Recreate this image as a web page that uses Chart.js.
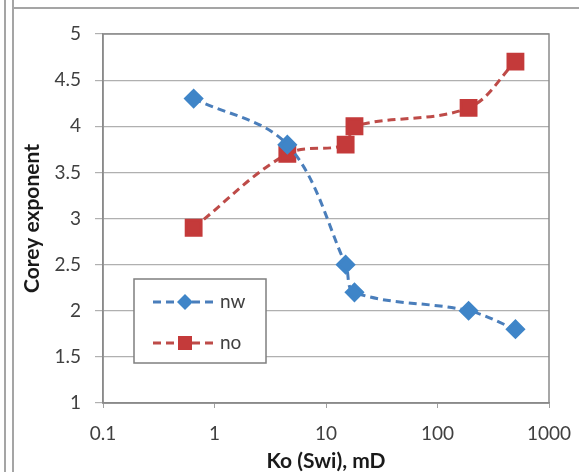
<!DOCTYPE html>
<html>
<head>
<meta charset="utf-8">
<script src="https://cdn.jsdelivr.net/npm/chart.js@4"></script>
<style>
  html, body { margin: 0; padding: 0; background: #fff; }
  #wrap { width: 579px; height: 472px; }
</style>
</head>
<body>
<div id="wrap"><canvas id="Corey"></canvas></div>
<script>
const ko = [0.65, 4.5, 15, 18, 190, 500];
const nw = [4.3, 3.8, 2.5, 2.2, 2.0, 1.8];
const no = [2.9, 3.7, 3.8, 4.0, 4.2, 4.7];
const xTicks = [0.1, 1, 10, 100, 1000];
const seriesNames = ['nw', 'no'];

const fontName = 'Lato, "Open Sans", sans-serif';

// outer frame of the Excel object + plot border
const framePlugin = {
  id: 'frame',
  beforeDraw(chart) {
    const c = chart.ctx;
    c.save();
    c.fillStyle = '#fff';
    c.fillRect(0, 0, chart.width, chart.height);
    c.strokeStyle = '#a5a5a5';
    c.lineWidth = 2;
    c.beginPath();
    c.moveTo(5, 0); c.lineTo(5, chart.height);
    c.moveTo(13, 0); c.lineTo(13, chart.height);
    c.moveTo(13, 8); c.lineTo(chart.width, 8);
    c.stroke();
    c.restore();
  },
  beforeDatasetsDraw(chart) {
    const a = chart.chartArea;
    const c = chart.ctx;
    c.save();
    c.strokeStyle = '#8a8a8a';
    c.lineWidth = 1.5;
    c.strokeRect(a.left, a.top, a.right - a.left, a.bottom - a.top);
    c.restore();
  }
};

// legend box drawn inside the plot, lower left
const boxLegend = {
  id: 'boxLegend',
  afterDraw(chart) {
    const a = chart.chartArea;
    const c = chart.ctx;
    const x0 = a.left + 31, y0 = a.bottom - 124, w = 132, h = 84;
    c.save();
    c.fillStyle = '#fff';
    c.fillRect(x0, y0, w, h);
    c.strokeStyle = '#7f7f7f';
    c.lineWidth = 1.5;
    c.strokeRect(x0, y0, w, h);
    chart.data.datasets.forEach((ds, i) => {
      const y = y0 + 23 + i * 41;
      c.strokeStyle = ds.borderColor;
      c.lineWidth = ds.borderWidth;
      c.setLineDash(ds.borderDash);
      c.beginPath();
      c.moveTo(x0 + 19, y);
      c.lineTo(x0 + 84, y);
      c.stroke();
      c.setLineDash([]);
      c.fillStyle = ds.pointBackgroundColor;
      c.beginPath();
      if (ds.pointStyle === 'rect') {
        c.rect(x0 + 51 - 7, y - 7, 14, 14);
      } else {
        c.moveTo(x0 + 51 - 8, y); c.lineTo(x0 + 51, y - 8);
        c.lineTo(x0 + 51 + 8, y); c.lineTo(x0 + 51, y + 8);
        c.closePath();
      }
      c.fill();
      c.fillStyle = '#404040';
      c.font = '19px ' + fontName;
      c.textBaseline = 'middle';
      c.fillText(ds.label, x0 + 86, y);
    });
    c.restore();
  }
};

function pts(ys) {
  return ko.map((k, i) => ({x: k, y: ys[i]}));
}

new Chart(document.getElementById('Corey'), {
  type: 'scatter',
  data: {
    datasets: [{
      label: seriesNames[0],
      data: pts(nw),
      showLine: true,
      borderColor: '#4a7ebb',
      borderWidth: 3,
      borderDash: [8, 5],
      tension: 0.35,
      pointStyle: 'rectRot',
      pointRadius: 8,
      pointHoverRadius: 8,
      pointBackgroundColor: '#3f85c8',
      pointBorderColor: '#3f85c8'
    }, {
      label: seriesNames[1],
      data: pts(no),
      showLine: true,
      borderColor: '#be4b48',
      borderWidth: 3,
      borderDash: [8, 5],
      tension: 0.35,
      pointStyle: 'rect',
      pointRadius: 10.5,
      pointHoverRadius: 10.5,
      pointBackgroundColor: '#c43a3a',
      pointBorderColor: '#c43a3a'
    }]
  },
  options: {
    responsive: true,
    maintainAspectRatio: false,
    animation: false,
    layout: { padding: { top: 34, right: 30, left: 0, bottom: 0 } },
    plugins: {
      legend: { display: false },
      tooltip: { enabled: false }
    },
    scales: {
      x: {
        type: 'logarithmic',
        min: 0.1,
        max: 1000,
        afterBuildTicks: s => { s.ticks = xTicks.map(v => ({value: v})); },
        afterFit: s => { s.height = 69; s.paddingLeft = 0; s.paddingRight = 0; },
        ticks: {
          callback: v => String(v),
          color: '#404040',
          font: { family: fontName, size: 19 },
          padding: 14,
          maxRotation: 0
        },
        grid: { drawOnChartArea: false, tickLength: 5, color: '#a0a0a0' },
        border: { color: '#8a8a8a', width: 1.5 },
        title: {
          display: true,
          text: 'Ko (Swi), mD',
          color: '#1a1a1a',
          font: { family: fontName, size: 21, weight: 'bold', lineHeight: 1 },
          padding: { top: 0, bottom: 0 }
        }
      },
      y: {
        min: 1,
        max: 5,
        afterFit: s => { s.width = 103; s.paddingTop = 0; s.paddingBottom = 0; },
        ticks: {
          stepSize: 0.5,
          callback: v => String(v),
          color: '#404040',
          font: { family: fontName, size: 19 },
          padding: 14
        },
        grid: { color: '#b0b0b0', lineWidth: 1.2, tickLength: 8 },
        border: { color: '#8a8a8a', width: 1.5 },
        title: {
          display: true,
          text: 'Corey exponent',
          color: '#1a1a1a',
          font: { family: fontName, size: 21, weight: 'bold', lineHeight: 1 },
          padding: { top: 22, bottom: 0 }
        }
      }
    }
  },
  plugins: [framePlugin, boxLegend]
});
</script>
</body>
</html>
